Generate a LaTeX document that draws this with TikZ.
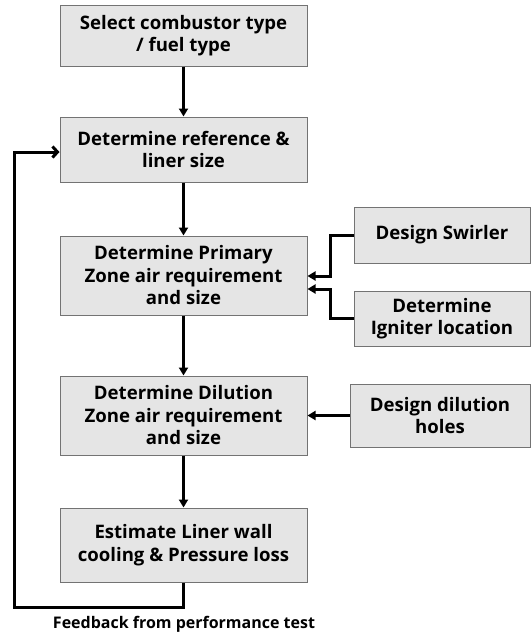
\documentclass[tikz,border=0pt]{standalone}
\usepackage{fontspec}
\setmainfont{Open Sans}
\usetikzlibrary{arrows.meta}

\begin{document}
\begin{tikzpicture}[x=1pt,y=-1pt,
  box/.style={draw=black!55,line width=1pt,fill=black!10,align=center,inner sep=0pt,
    font=\bfseries\fontsize{18.6}{22.5}\selectfont},
  flow/.style={line width=3pt,-{Triangle[length=8pt,width=9pt]}},
  back/.style={line width=3pt,-{Straight Barb[length=5pt,width=11pt,line width=3pt]}}]
\useasboundingbox (0,0) rectangle (532,633);

\node[box,minimum width=247pt,minimum height=61pt] at (183.5,35.5)  (1) {Select combustor type\\/ fuel type};
\node[box,minimum width=247pt,minimum height=65pt] at (183.5,149.5) (2) {Determine reference \&\\liner size};
\node[box,minimum width=247pt,minimum height=79pt] at (183.5,275.5) (3) {Determine Primary\\Zone air requirement\\and size};
\node[box,minimum width=247pt,minimum height=79pt] at (183.5,415.5) (4) {Determine Dilution\\Zone air requirement\\and size};
\node[box,minimum width=247pt,minimum height=74pt] at (183.5,545)   (5) {Estimate Liner wall\\cooling \& Pressure loss};

\node[box,minimum width=176pt,minimum height=56pt] at (442,235)   (6) {Design Swirler};
\node[box,minimum width=176pt,minimum height=55pt] at (442,318.5) (7) {Determine\\Igniter location};
\node[box,minimum width=180pt,minimum height=63pt] at (440,415.5) (8) {Design dilution\\holes};

\node[font=\bfseries\fontsize{16}{18}\selectfont] at (184,624) (9) {Feedback from performance test};

\coordinate (a) at (330,276);
\coordinate (b) at (330,289);
\coordinate (c) at (14,607);
\coordinate (d) at (14,152);

\draw[flow] (1) -- (2);
\draw[flow] (2) -- (3);
\draw[flow] (3) -- (4);
\draw[flow] (4) -- (5);
\draw[flow] (6.west) -| (a) -- (3.east |- a);
\draw[flow] (7.west) -| (b) -- (3.east |- b);
\draw[flow] (8) -- (4);
\draw[back] (5.south) |- (c) -- (d) -- (2.west |- d);
\end{tikzpicture}
\end{document}
